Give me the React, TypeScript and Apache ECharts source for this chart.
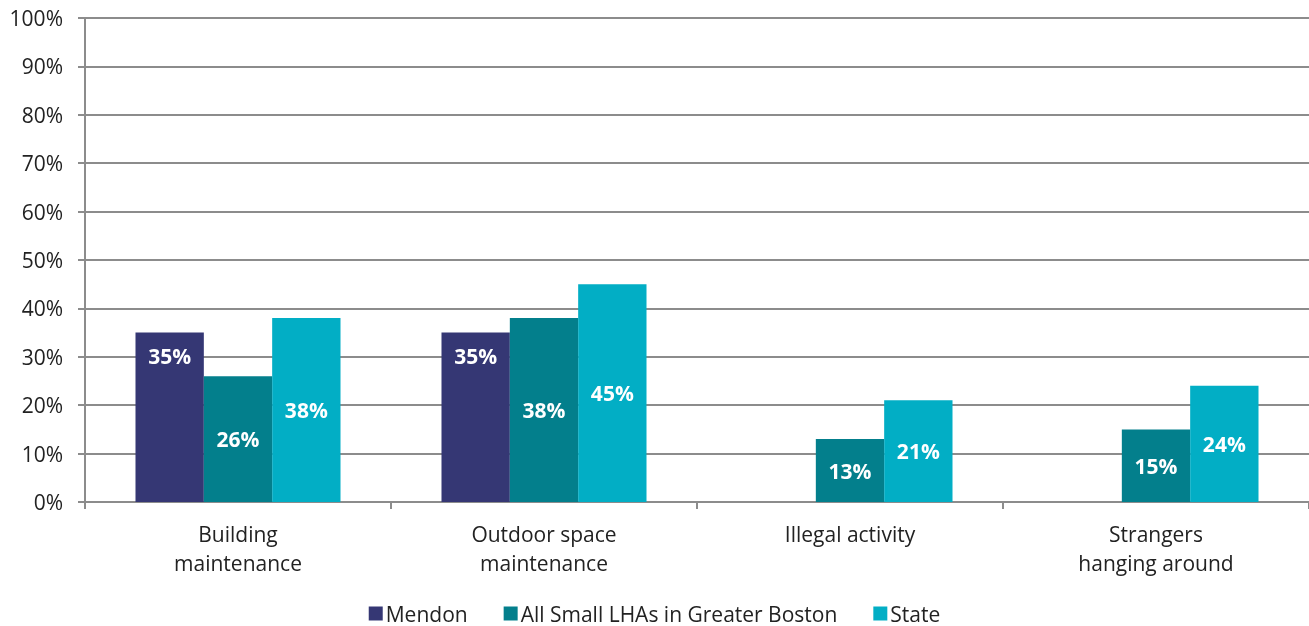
import React, { useEffect, useRef } from "react";
import * as echarts from "echarts";

const categories = ["Building\nmaintenance", "Outdoor space\nmaintenance", "Illegal activity", "Strangers\nhanging around"];
const mendon = [35, 35, 0, 0];
const smallLHAs = [26, 38, 13, 15];
const stateVals = [38, 45, 21, 24];
const yTicks = [0, 10, 20, 30, 40, 50, 60, 70, 80, 90, 100];

const FONT = "'Open Sans', 'Noto Sans', sans-serif";

export default function App() {
  const ref = useRef<HTMLDivElement>(null);
  useEffect(() => {
    if (!ref.current) return;
    const chart = echarts.init(ref.current, null, { renderer: "svg" });
    const label = (pos: any, dist: number) => ({
      show: true,
      position: pos,
      distance: dist,
      color: "#ffffff",
      fontWeight: "bold",
      fontSize: 21,
      fontFamily: FONT,
      formatter: (p: any) => (p.value ? p.value + "%" : ""),
    });
    chart.setOption({
      animation: false,
      textStyle: { fontFamily: FONT },
      grid: { left: 85, right: 0, top: 18, bottom: 124, containLabel: false },
      legend: {
        bottom: 2,
        left: "center",
        padding: 0,
        itemWidth: 14,
        itemHeight: 14,
        itemGap: 36,
        icon: "rect",
        textStyle: { fontSize: 21, color: "#222", fontFamily: FONT, padding: [0, 0, 0, -2] },
        data: ["Mendon", "All Small LHAs in Greater Boston", "State"],
      },
      xAxis: {
        type: "category",
        data: categories,
        axisLine: { lineStyle: { color: "#8c8c8c", width: 2 } },
        axisTick: { show: true, length: 7, lineStyle: { color: "#8c8c8c", width: 2 } },
        axisLabel: { fontSize: 21, color: "#222", lineHeight: 29, margin: 17, fontFamily: FONT },
      },
      yAxis: {
        type: "value",
        min: 0,
        max: 100,
        interval: 10,
        axisLine: { show: true, lineStyle: { color: "#8c8c8c", width: 2 } },
        axisTick: { show: true, length: 7, lineStyle: { color: "#8c8c8c", width: 2 } },
        splitLine: { show: true, lineStyle: { color: "#8c8c8c", width: 2 } },
        axisLabel: {
          fontSize: 21,
          color: "#222",
          margin: 22,
          fontFamily: FONT,
          formatter: (v: number) => (yTicks.includes(v) ? v + "%" : ""),
        },
      },
      series: [
        {
          name: "Mendon",
          type: "bar",
          data: mendon,
          itemStyle: { color: "#353774" },
          barGap: "0%",
          barCategoryGap: "33%",
          label: label("insideTop", 13),
        },
        {
          name: "All Small LHAs in Greater Boston",
          type: "bar",
          data: smallLHAs,
          itemStyle: { color: "#037f8c" },
          label: label("inside", 0),
        },
        {
          name: "State",
          type: "bar",
          data: stateVals,
          itemStyle: { color: "#02aec5" },
          label: label("inside", 0),
        },
      ],
    });
    return () => chart.dispose();
  }, []);
  return <div ref={ref} style={{ position: "fixed", left: 0, top: 0, width: 1309, height: 626 }} />;
}
